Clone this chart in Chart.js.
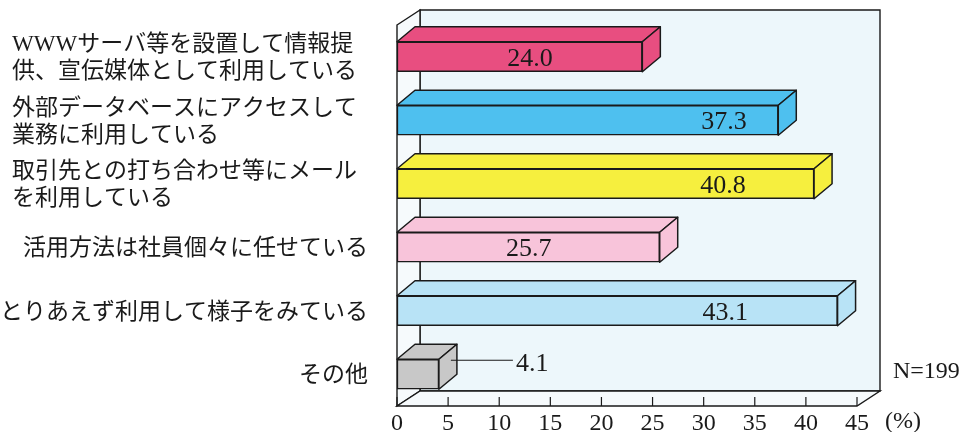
<!DOCTYPE html>
<html>
<head>
<meta charset="utf-8">
<script src="https://cdn.jsdelivr.net/npm/chart.js@4.4.1/dist/chart.umd.min.js"></script>
<style>
  html, body { margin: 0; padding: 0; background: #fff; }
</style>
</head>
<body>
<canvas id="chart" width="963" height="432"></canvas>
<script>
// categories (top to bottom), values in %
const categories = [
    ['WWWサーバ等を設置して情報提', '供、宣伝媒体として利用している'],
    ['外部データベースにアクセスして', '業務に利用している'],
    ['取引先との打ち合わせ等にメール', 'を利用している'],
    ['活用方法は社員個々に任せている'],
    ['とりあえず利用して様子をみている'],
    ['その他']
];
const values = [24.0, 37.3, 40.8, 25.7, 43.1, 4.1];
const valueLabels = ['24.0', '37.3', '40.8', '25.7', '43.1', '4.1'];
const xTickValues = [0, 5, 10, 15, 20, 25, 30, 35, 40, 45];
const sampleNote = 'N=199';
const unitNote = '(%)';

const barColors = ['#e84e80', '#4ec0ef', '#f6ef3e', '#f8c4da', '#b8e3f6', '#c8c8c8'];

const SERIF = '"Liberation Serif", "Noto Sans CJK JP", serif';
const INK = '#1a1a1a';

// depth of the box walls and of each bar
const WALL_DX = 23, WALL_DY = 15;
const BAR_DX = 18, BAR_DY = 15;

/* ============= 3D box + bar faces ============= */

function line(ctx, pts) {
    ctx.beginPath();
    ctx.moveTo(pts[0][0], pts[0][1]);
    for (let i = 1; i < pts.length; i++) ctx.lineTo(pts[i][0], pts[i][1]);
    ctx.stroke();
}

function poly(ctx, pts, fill) {
    ctx.beginPath();
    ctx.moveTo(pts[0][0], pts[0][1]);
    for (let i = 1; i < pts.length; i++) ctx.lineTo(pts[i][0], pts[i][1]);
    ctx.closePath();
    ctx.fillStyle = fill;
    ctx.fill();
    ctx.stroke();
}

const box3d = {
    id: 'box3d',
    beforeDatasetsDraw(chart) {
        const ctx = chart.ctx;
        const { left, right, top, bottom } = chart.chartArea;
        const xs = chart.scales.x;
        ctx.save();
        ctx.strokeStyle = INK;
        ctx.lineWidth = 1.4;
        // back wall
        poly(ctx, [[left + WALL_DX, top - WALL_DY], [right + WALL_DX, top - WALL_DY],
                   [right + WALL_DX, bottom - WALL_DY], [left + WALL_DX, bottom - WALL_DY]], '#edf7fb');
        // left wall
        poly(ctx, [[left, top], [left + WALL_DX, top - WALL_DY],
                   [left + WALL_DX, bottom - WALL_DY], [left, bottom]], '#f6fafc');
        // floor
        poly(ctx, [[left, bottom], [left + WALL_DX, bottom - WALL_DY],
                   [right + WALL_DX, bottom - WALL_DY], [right, bottom]], '#f6fafc');
        // ticks on the front edge, pointing inward
        ctx.lineWidth = 1.2;
        xTickValues.forEach(v => {
            const x = xs.getPixelForValue(v);
            line(ctx, [[x, bottom], [x, bottom - 9]]);
        });
        ctx.restore();
    },
    afterDatasetsDraw(chart, args, opts) {
        const ctx = chart.ctx;
        const xs = chart.scales.x;
        const meta = chart.getDatasetMeta(0);
        ctx.save();
        ctx.strokeStyle = INK;
        ctx.lineWidth = 1.5;
        ctx.lineJoin = 'round';
        meta.data.forEach((bar, i) => {
            const x0 = bar.base, x1 = bar.x;
            const yT = bar.y - bar.height / 2, yB = bar.y + bar.height / 2;
            poly(ctx, [[x0, yT], [x0 + BAR_DX, yT - BAR_DY], [x1 + BAR_DX, yT - BAR_DY], [x1, yT]], barColors[i]);
            poly(ctx, [[x1, yT], [x1 + BAR_DX, yT - BAR_DY], [x1 + BAR_DX, yB - BAR_DY], [x1, yB]], barColors[i]);
        });

        // value labels
        ctx.font = '26px ' + SERIF;
        ctx.fillStyle = INK;
        ctx.textBaseline = 'middle';
        meta.data.forEach((bar, i) => {
            const v = values[i];
            if (v > 10) {
                ctx.textAlign = 'center';
                ctx.fillText(valueLabels[i], xs.getPixelForValue(v - opts.labelInset[i]), bar.y + 2);
            } else {
                // too short: leader line out to the right
                const ly = bar.y - 14;
                ctx.lineWidth = 1.2;
                line(ctx, [[bar.x + 12, ly], [bar.x + 74, ly]]);
                ctx.textAlign = 'left';
                ctx.fillText(valueLabels[i], bar.x + 77, ly + 4);
            }
        });
        ctx.restore();
    },
    afterDraw(chart) {
        const ctx = chart.ctx;
        const ys = chart.scales.y;
        const { right, bottom } = chart.chartArea;
        ctx.save();
        ctx.fillStyle = INK;
        ctx.font = '23px ' + SERIF;
        ctx.textBaseline = 'middle';
        const lh = 27;
        categories.forEach((lines, i) => {
            const cy = ys.getPixelForValue(i) + 2;
            if (lines.length > 1) {
                ctx.textAlign = 'left';
                lines.forEach((t, k) => {
                    ctx.fillText(t, 12, cy + (k - (lines.length - 1) / 2) * lh);
                });
            } else {
                ctx.textAlign = 'right';
                ctx.fillText(lines[0], 368, cy);
            }
        });
        ctx.font = '24px ' + SERIF;
        ctx.textAlign = 'left';
        ctx.fillText(sampleNote, right + 36, bottom - 34);
        ctx.fillText(unitNote, right + 28, bottom + 16);
        ctx.restore();
    }
};

/* ============= Chart ============= */

const ctx = document.getElementById('chart').getContext('2d');
const chart = new Chart(ctx, {
    type: 'bar',
    data: {
        labels: categories,
        datasets: [{
            data: values,
            backgroundColor: barColors,
            borderColor: INK,
            borderWidth: 1.5,
            borderSkipped: false,
            barThickness: 30
        }]
    },
    options: {
        indexAxis: 'y',
        responsive: false,
        animation: false,
        layout: { padding: { left: 397, right: 106, top: 25, bottom: 0 } },
        plugins: {
            legend: { display: false },
            tooltip: { enabled: false },
            box3d: { labelInset: [11.0, 5.3, 8.9, 12.8, 11.0, 0] }
        },
        scales: {
            x: {
                min: 0,
                max: 45,
                grid: { display: false, drawTicks: false },
                border: { display: false },
                afterBuildTicks: s => { s.ticks = xTickValues.map(v => ({ value: v })); },
                afterFit: s => { s.height = 26; },
                ticks: {
                    font: { family: SERIF, size: 24 },
                    color: INK,
                    padding: 3
                }
            },
            y: { display: false }
        }
    },
    plugins: [box3d]
});
</script>
</body>
</html>
